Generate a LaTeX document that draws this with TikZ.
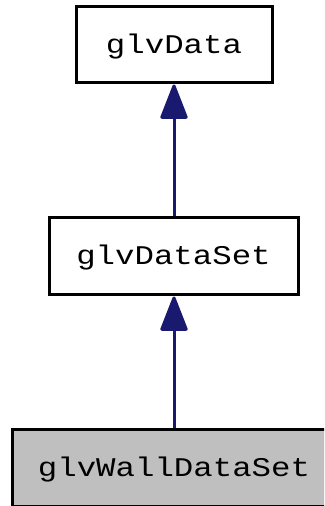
\documentclass[tikz,border=0pt]{standalone}
\usepackage{fontspec}
\newfontfamily\glvfont[FakeStretch=1.2]{Liberation Mono}
\usetikzlibrary{arrows.meta}
\definecolor{edgeblue}{HTML}{191970}
\definecolor{boxgray}{HTML}{BFBFBF}
\tikzset{
  classbox/.style={draw=black, line width=3pt, rectangle, inner sep=0pt,
    minimum height=77pt, text height=16.5pt, text depth=0pt,
    font=\glvfont\fontsize{27}{30}\selectfont},
  inherit/.style={draw=edgeblue, line width=3pt,
    -{Triangle[length=37pt,width=28pt,round]}, color=edgeblue}
}
\begin{document}
\begin{tikzpicture}[x=1pt,y=1pt]
\useasboundingbox (0,0) rectangle (324,506);
\begin{scope}
\clip (0,0) rectangle (324,506);
\node[classbox, fill=white, minimum width=196pt, minimum height=76pt] (top) at (174,461) {glvData};
\node[classbox, fill=white, minimum width=249pt] (mid) at (173.5,249.5) {glvDataSet};
\node[classbox, fill=boxgray, minimum width=324pt] (bot) at (174,37.5) {glvWallDataSet};
\draw[inherit] (mid.north -| top.south) -- (top.south);
\draw[inherit] (bot.north) -- (bot.north |- mid.south);
\end{scope}
\end{tikzpicture}
\end{document}
